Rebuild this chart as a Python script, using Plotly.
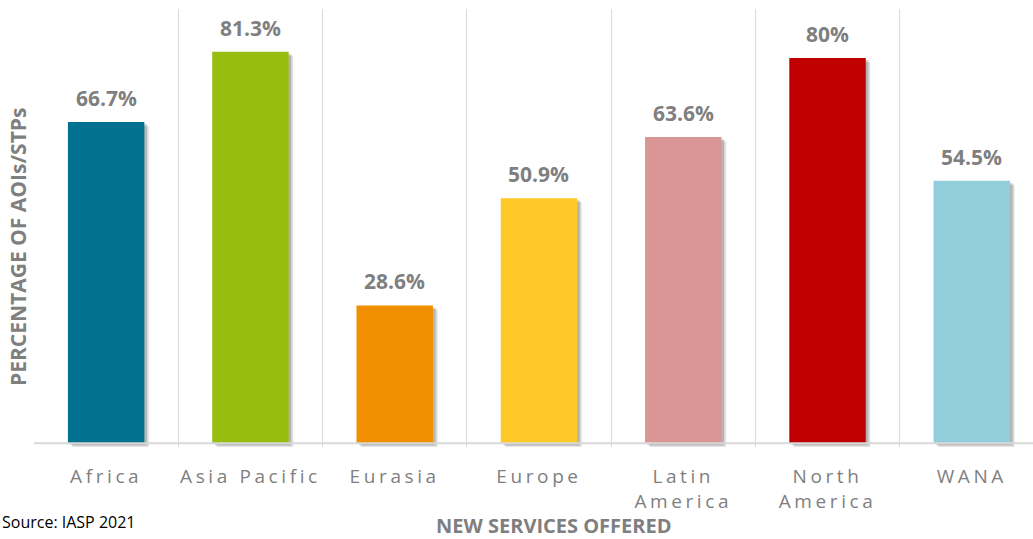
import plotly.graph_objects as go

categories = ["Africa", "Asia Pacific", "Eurasia", "Europe", "Latin America", "North America", "WANA"]
values = [66.7, 81.3, 28.6, 50.9, 63.6, 80.0, 54.5]
value_labels = ["66.7%", "81.3%", "28.6%", "50.9%", "63.6%", "80%", "54.5%"]
tick_labels = ["Africa", "Asia Pacific", "Eurasia", "Europe", "Latin<br>America", "North<br>America", "WANA"]
colors = ["#00728F", "#97BD0F", "#F09000", "#FFCA28", "#DA9694", "#C00000", "#92CDDC"]

W = 0.53
PX = 1 / 144.3  # one pixel in category units

fig = go.Figure()
# soft shadows
for dx, dy, a in [(5, 0.9, 0.06), (4, 0.7, 0.10), (2.5, 0.45, 0.16)]:
    fig.add_trace(go.Bar(
        x=categories, y=values, base=-dy, width=W, offset=-W / 2 + dx * PX,
        marker=dict(color=f"rgba(0,0,0,{a})", line=dict(width=0)),
        hoverinfo="skip", showlegend=False,
    ))
fig.add_trace(go.Bar(
    x=categories, y=values, width=W, offset=-W / 2,
    marker=dict(color=colors, line=dict(width=0)),
    showlegend=False,
))

for c, v, t in zip(categories, values, value_labels):
    fig.add_annotation(x=c, y=v, text=f"<b>{t}</b>", showarrow=False,
                       yanchor="bottom", yshift=8,
                       font=dict(family="Open Sans", size=21, color="#7F7F7F"))

fig.add_shape(type="line", xref="paper", x0=0, x1=1, yref="y", y0=0, y1=0,
              line=dict(color="#D9D9D9", width=2), layer="above")

spaced = [f'<span style="letter-spacing:3.6px">{t}</span>' for t in tick_labels]

fig.update_layout(
    width=1033, height=539,
    margin=dict(l=34, r=0, t=9, b=92),
    paper_bgcolor="white", plot_bgcolor="white",
    barmode="overlay",
    font=dict(family="Open Sans", color="#7F7F7F"),
    xaxis=dict(
        type="category", range=[-0.5, 6.424], automargin=False,
        tickmode="array", tickvals=categories, ticktext=spaced, tickangle=0,
        tickson="boundaries", showgrid=True, gridcolor="#D9D9D9", gridwidth=1,
        ticks="", showline=False, zeroline=False,
        tickfont=dict(family="Open Sans", size=19, color="#7F7F7F"),
        ticklabelstandoff=16,
    ),
    yaxis=dict(range=[-0.8, 90.2], showgrid=False, showticklabels=False, automargin=False,
               zeroline=False, showline=False, ticks=""),
)

fig.add_annotation(xref="paper", yref="paper", x=(18 - 34) / 999, y=(447 - 247) / 438,
                   text="<b>PERCENTAGE OF AOIs/STPs</b>", textangle=-90, showarrow=False,
                   xanchor="center", yanchor="middle",
                   font=dict(family="Open Sans", size=21, color="#7F7F7F"))
fig.add_annotation(xref="paper", yref="paper", x=(553 - 34) / 999, y=(447 - 525) / 438,
                   text="<b>NEW SERVICES OFFERED</b>", showarrow=False,
                   xanchor="center", yanchor="middle",
                   font=dict(family="Open Sans", size=20, color="#7F7F7F"))
fig.add_annotation(xref="paper", yref="paper", x=-34 / 999, y=(447 - 522) / 438,
                   text="Source: IASP 2021", showarrow=False,
                   xanchor="left", yanchor="middle",
                   font=dict(family="Open Sans", size=16, color="#000000"))

fig.write_html("out.html", config={"displayModeBar": False},
               post_script="document.body.style.margin='0px';document.body.style.overflow='hidden';")
